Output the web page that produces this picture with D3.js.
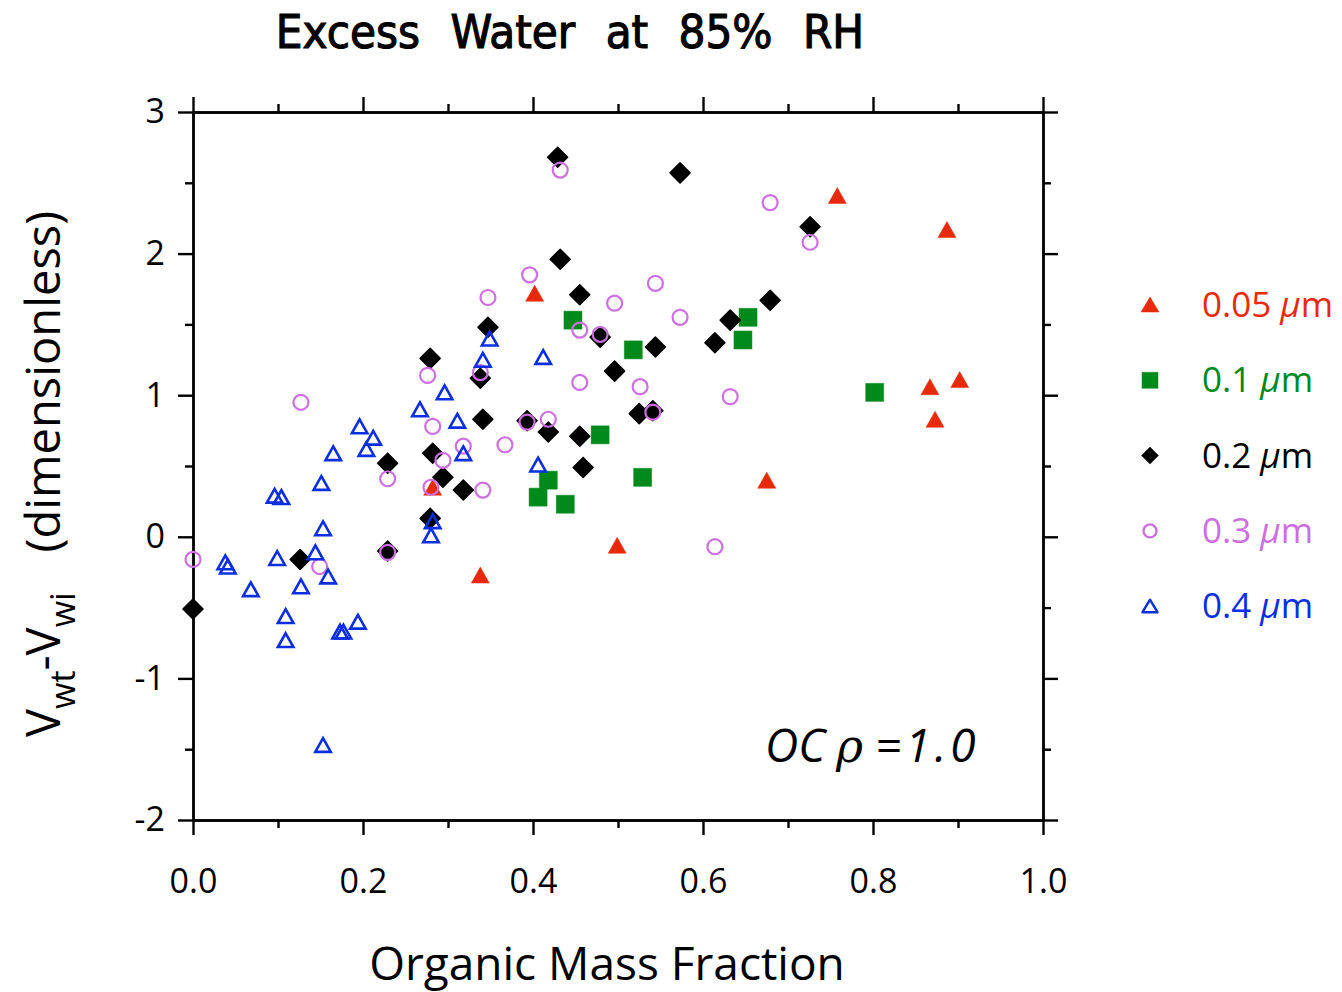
<!DOCTYPE html>
<meta charset="utf-8">
<script src="https://d3js.org/d3.v7.min.js"></script>
<style>
  body { margin: 0; background: #fff; }
  text { font-family: "Open Sans", "DejaVu Sans", sans-serif; }
</style>
<div id="chart"></div>
<script>

// data: [organic mass fraction, Vwt - Vwi], one array per particle size
var d005 = [
  [0.758, 2.41], [0.887, 2.17], [0.402, 1.72], [0.867, 1.06], [0.902, 1.11],
  [0.873, 0.83], [0.675, 0.40], [0.499, -0.06], [0.338, -0.27], [0.282, 0.35]
];

var d01 = [
  [0.447, 1.53], [0.518, 1.32], [0.653, 1.55], [0.647, 1.39], [0.802, 1.02],
  [0.479, 0.72], [0.529, 0.42], [0.418, 0.40], [0.406, 0.28], [0.438, 0.23]
];

var d02 = [
  [0.0, -0.51], [0.126, -0.16], [0.229, -0.10], [0.229, 0.52], [0.279, 0.13],
  [0.282, 0.59], [0.279, 1.26], [0.294, 0.42], [0.318, 0.33], [0.338, 1.12],
  [0.341, 0.83], [0.347, 1.48], [0.393, 0.82], [0.418, 0.74], [0.429, 2.68],
  [0.432, 1.96], [0.455, 1.71], [0.455, 0.71], [0.459, 0.49], [0.479, 1.41],
  [0.496, 1.17], [0.525, 0.87], [0.541, 0.89], [0.544, 1.34], [0.573, 2.57],
  [0.614, 1.37], [0.632, 1.53], [0.679, 1.67], [0.726, 2.19]
];

var d03 = [
  [0.0, -0.16], [0.127, 0.95], [0.149, -0.21], [0.229, 0.41], [0.229, -0.11],
  [0.276, 1.14], [0.282, 0.78], [0.280, 0.35], [0.294, 0.54], [0.318, 0.64],
  [0.338, 1.16], [0.341, 0.33], [0.347, 1.69], [0.367, 0.65], [0.393, 0.81],
  [0.396, 1.85], [0.418, 0.83], [0.432, 2.59], [0.455, 1.46], [0.455, 1.09],
  [0.479, 1.43], [0.496, 1.65], [0.526, 1.06], [0.541, 0.88], [0.544, 1.79],
  [0.573, 1.55], [0.614, -0.07], [0.632, 0.99], [0.679, 2.36], [0.726, 2.08]
];

var d04 = [
  [0.038, -0.18], [0.041, -0.21], [0.068, -0.37], [0.096, 0.29], [0.104, 0.28],
  [0.099, -0.15], [0.109, -0.56], [0.109, -0.73], [0.127, -0.35], [0.144, -0.11],
  [0.151, 0.38], [0.153, 0.06], [0.153, -1.47], [0.159, -0.28], [0.165, 0.59],
  [0.173, -0.67], [0.177, -0.67], [0.194, -0.60], [0.196, 0.78], [0.204, 0.62],
  [0.212, 0.70], [0.267, 0.90], [0.280, 0.01], [0.282, 0.11], [0.296, 1.02],
  [0.311, 0.82], [0.318, 0.59], [0.341, 1.25], [0.349, 1.40], [0.406, 0.51],
  [0.412, 1.27]
];

var sizeLabels = ["0.05", "0.1", "0.2", "0.3", "0.4"];
var xTicks = [0, 0.2, 0.4, 0.6, 0.8, 1.0];
var yTicks = [-2, -1, 0, 1, 2, 3];

var series = [
  {label: sizeLabels[0], data: d005, shape: "tri",  fill: true,  color: "#e72a0b"},
  {label: sizeLabels[1], data: d01,  shape: "sq",   fill: true,  color: "#008a1c"},
  {label: sizeLabels[2], data: d02,  shape: "dia",  fill: true,  color: "#000000"},
  {label: sizeLabels[3], data: d03,  shape: "circ", fill: false, color: "#cd6fe0"},
  {label: sizeLabels[4], data: d04,  shape: "tri",  fill: false, color: "#0a2ee2"}
];

var W = 1342, H = 992;
var x0 = 193, x1 = 1043, yTop = 112, yBot = 820;

var svg = d3.select("#chart").append("svg")
  .attr("width", W).attr("height", H);

var x = d3.scaleLinear().domain([0, 1]).range([x0, x1]);
var y = d3.scaleLinear().domain([-2, 3]).range([yBot, yTop]);

var minorX = d3.range(0, 1.0001, 0.1).filter(function(v) { return Math.round(v * 10) % 2 == 1; });
var minorY = d3.range(-2, 3.0001, 0.5).filter(function(v) { return Math.abs(v % 1) > 0.1; });

function styleAxis(g) {
  g.selectAll("path, line").attr("stroke", "#000").attr("stroke-width", 2.4);
  g.selectAll("text").attr("fill", "#000")
    .style("font-family", '"Open Sans", "DejaVu Sans", sans-serif')
    .style("font-size", "34px");
}

// bottom
svg.append("g").attr("transform", "translate(0," + yBot + ")")
  .call(d3.axisBottom(x).tickValues(xTicks).tickSize(15).tickSizeOuter(0).tickPadding(34)
    .tickFormat(d3.format(".1f")))
  .call(styleAxis);
svg.append("g").attr("transform", "translate(0," + yBot + ")")
  .call(d3.axisBottom(x).tickValues(minorX).tickSize(8).tickSizeOuter(0).tickFormat(""))
  .call(styleAxis);
// top
svg.append("g").attr("transform", "translate(0," + yTop + ")")
  .call(d3.axisTop(x).tickValues(xTicks).tickSize(15).tickSizeOuter(0).tickFormat(""))
  .call(styleAxis);
svg.append("g").attr("transform", "translate(0," + yTop + ")")
  .call(d3.axisTop(x).tickValues(minorX).tickSize(8).tickSizeOuter(0).tickFormat(""))
  .call(styleAxis);
// left
svg.append("g").attr("transform", "translate(" + x0 + ",0)")
  .call(d3.axisLeft(y).tickValues(yTicks).tickSize(15).tickSizeOuter(0).tickPadding(13)
    .tickFormat(function(d) { return String(d); }))
  .call(styleAxis);
svg.append("g").attr("transform", "translate(" + x0 + ",0)")
  .call(d3.axisLeft(y).tickValues(minorY).tickSize(8).tickSizeOuter(0).tickFormat(""))
  .call(styleAxis);
// right
svg.append("g").attr("transform", "translate(" + x1 + ",0)")
  .call(d3.axisRight(y).tickValues(yTicks).tickSize(15).tickSizeOuter(0).tickFormat(""))
  .call(styleAxis);
svg.append("g").attr("transform", "translate(" + x1 + ",0)")
  .call(d3.axisRight(y).tickValues(minorY).tickSize(8).tickSizeOuter(0).tickFormat(""))
  .call(styleAxis);

// marker shapes
function shapePath(shape, fill) {
  if (shape == "tri") {
    var w = fill ? 18 : 15.5, h = fill ? 16 : 13.8;
    return "M0," + (-h / 2) + "L" + (w / 2) + "," + (h / 2) + "L" + (-w / 2) + "," + (h / 2) + "Z";
  }
  if (shape == "sq") return "M-9,-9H9V9H-9Z";
  if (shape == "dia") return "M0,-10L10,0L0,10L-10,0Z";
  return d3.arc()({innerRadius: 0, outerRadius: 7.5, startAngle: 0, endAngle: 2 * Math.PI});
}

function drawMarker(sel, s) {
  sel.append("path")
    .attr("d", shapePath(s.shape, s.fill))
    .attr("fill", s.fill ? s.color : "none")
    .attr("stroke", s.color)
    .attr("stroke-width", s.fill ? (s.shape == "dia" ? 1.5 : 0.5) : (s.shape == "circ" ? 2.2 : 2.6))
    .attr("stroke-linejoin", s.shape == "dia" ? "round" : "miter");
}

series.forEach(function(s) {
  var g = svg.append("g");
  g.selectAll("g").data(s.data).enter().append("g")
    .attr("transform", function(d) { return "translate(" + x(d[0]) + "," + y(d[1]) + ")"; })
    .each(function() { drawMarker(d3.select(this), s); });
});

// legend
series.forEach(function(s, i) {
  var ly = 305 + i * 75.3;
  var g = svg.append("g").attr("transform", "translate(1150," + ly + ")");
  g.append("path")
    .attr("d", s.shape == "circ"
      ? d3.arc()({innerRadius: 0, outerRadius: 6.5, startAngle: 0, endAngle: 2 * Math.PI})
      : s.shape == "dia" ? "M0,-8.5L8.5,0L0,8.5L-8.5,0Z"
      : s.shape == "sq" ? "M-8,-8H8V8H-8Z"
      : (s.fill ? "M0,-8L9,7L-9,7Z" : "M0,-6.5L7.5,6L-7.5,6Z"))
    .attr("fill", s.fill ? s.color : "none")
    .attr("stroke", s.color)
    .attr("stroke-width", s.fill ? 0.5 : 2.4)
    .attr("stroke-linejoin", "round");
  var t = g.append("text").attr("x", 52).attr("y", 12)
    .attr("fill", s.color).style("font-size", "35px");
  t.append("tspan").text(s.label + " ");
  t.append("tspan").style("font-style", "italic").text("\u00b5");
  t.append("tspan").text("m");
});

// title
svg.append("text")
  .attr("x", 570).attr("y", 48)
  .attr("text-anchor", "middle")
  .style("font-family", '"DejaVu Sans Condensed", "Liberation Sans Narrow", sans-serif')
  .style("font-stretch", "condensed")
  .style("font-size", "47px")
  .style("word-spacing", "17px")
  .attr("stroke", "#000").attr("stroke-width", 1.1)
  .text("Excess Water at 85% RH");

// x label
svg.append("text")
  .attr("x", 607).attr("y", 980)
  .attr("text-anchor", "middle")
  .style("font-size", "46px")
  .text("Organic Mass Fraction");

// y label
var yl = svg.append("text")
  .attr("transform", "translate(60,737) rotate(-90)")
  .style("font-size", "47px");
yl.append("tspan").text("V");
yl.append("tspan").attr("dy", 15).style("font-size", "34px").text("wt");
yl.append("tspan").attr("dy", -15).text("-V");
yl.append("tspan").attr("dy", 15).style("font-size", "34px").text("wi");
yl.append("tspan").attr("dy", -15).attr("dx", 40).text("(dimensionless)");

// annotation
var ann = svg.append("text")
  .attr("y", 762)
  .style("font-size", "46px")
  .style("font-style", "italic");
ann.append("tspan").attr("x", 765).text("OC");
ann.append("tspan").attr("x", 836)
  .style("font-family", '"DejaVu Serif", "Liberation Serif", serif').text("\u03c1");
ann.append("tspan").attr("x", 875).style("letter-spacing", "4px").text("=1.0");

</script>
